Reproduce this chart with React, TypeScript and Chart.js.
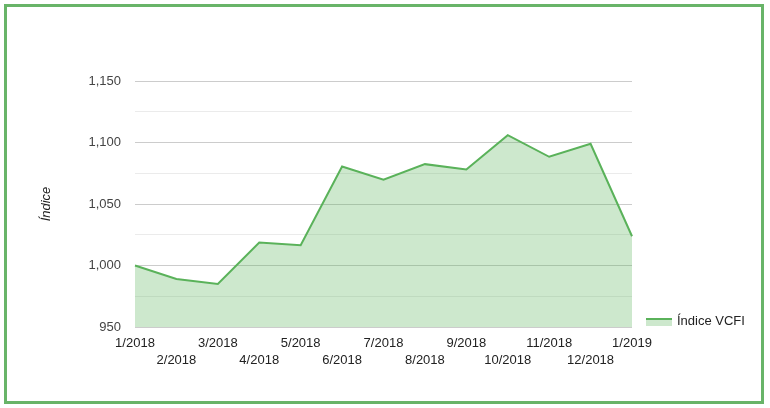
import { useEffect, useRef } from 'react';
import { Chart, registerables } from 'chart.js';

Chart.register(...registerables);

const monthLabels = [
  '1/2018', '2/2018', '3/2018', '4/2018', '5/2018', '6/2018', '7/2018',
  '8/2018', '9/2018', '10/2018', '11/2018', '12/2018', '1/2019',
];
const vcfiValues = [1000, 989, 985, 1018.7, 1016.5, 1080.5, 1069.7, 1082.4, 1078, 1106, 1088.4, 1099, 1023.8];
const seriesName = 'Índice VCFI';
const yAxisTitle = 'Índice';
const yMin = 950;
const yMax = 1150;
const yStep = 25;
const yLabelStep = 50;

const LINE = 'rgb(90,178,90)';
const FILL = 'rgba(90,178,90,0.3)';
const FONT = '"Liberation Sans", Arial, sans-serif';

const legendPlugin = {
  id: 'customLegend',
  afterDraw(chart: any) {
    const { ctx, chartArea } = chart;
    const x0 = chartArea.right + 14;
    const yLine = chartArea.bottom - 8;
    ctx.save();
    ctx.fillStyle = FILL;
    ctx.fillRect(x0, yLine, 26, 7);
    ctx.strokeStyle = LINE;
    ctx.lineWidth = 2;
    ctx.beginPath();
    ctx.moveTo(x0, yLine);
    ctx.lineTo(x0 + 26, yLine);
    ctx.stroke();
    ctx.font = `13px ${FONT}`;
    ctx.fillStyle = '#222';
    ctx.textBaseline = 'middle';
    ctx.textAlign = 'left';
    ctx.fillText(seriesName, x0 + 31, chartArea.bottom - 6);
    ctx.restore();
  },
};

export default function App() {
  const canvasRef = useRef<HTMLCanvasElement | null>(null);

  useEffect(() => {
    if (!canvasRef.current) return;
    const chart = new Chart(canvasRef.current, {
      type: 'line',
      data: {
        labels: monthLabels,
        datasets: [
          {
            label: seriesName,
            data: vcfiValues,
            borderColor: LINE,
            backgroundColor: FILL,
            borderWidth: 2,
            fill: 'origin',
            pointRadius: 0,
            tension: 0,
          },
        ],
      },
      options: {
        responsive: false,
        animation: false,
        layout: { padding: { top: 81, right: 138, left: 0, bottom: 0 } },
        plugins: {
          legend: { display: false },
          tooltip: { enabled: false },
        },
        scales: {
          x: {
            type: 'category',
            offset: false,
            grid: { display: false, drawTicks: false },
            border: { display: false },
            ticks: {
              maxRotation: 0,
              autoSkip: false,
              padding: 8,
              color: '#222',
              font: { family: FONT, size: 13, lineHeight: 17 / 13 },
              callback: (_v: any, i: number) => (i % 2 === 0 ? [monthLabels[i]] : ['', monthLabels[i]]),
            },
            afterFit: (scale: any) => {
              scale.height = 81;
            },
          },
          y: {
            min: yMin,
            max: yMax,
            grid: {
              drawTicks: false,
              color: (ctx: any) => (ctx.tick && ctx.tick.value % yLabelStep === 0 ? '#cccccc' : '#ebebeb'),
            },
            border: { display: false },
            ticks: {
              stepSize: yStep,
              padding: 14,
              color: '#444',
              font: { family: FONT, size: 13 },
              callback: (v: any) => (Number(v) % yLabelStep === 0 ? Number(v).toLocaleString('en-US') : ''),
            },
            title: {
              display: true,
              text: yAxisTitle,
              color: '#222',
              font: { family: FONT, size: 13, style: 'italic' },
              padding: { top: 39, bottom: 0 },
            },
            afterFit: (scale: any) => {
              scale.width = 135;
            },
          },
        },
      },
      plugins: [legendPlugin],
    });
    return () => chart.destroy();
  }, []);

  return (
    <div style={{ position: 'absolute', left: 0, top: 0, width: 770, height: 408, background: '#fff' }}>
      <canvas ref={canvasRef} width={770} height={408} style={{ display: 'block' }} />
      <div
        style={{
          position: 'absolute',
          left: 4,
          top: 4,
          width: 760,
          height: 400,
          boxSizing: 'border-box',
          border: '3px solid #68b468',
          pointerEvents: 'none',
        }}
      />
    </div>
  );
}
